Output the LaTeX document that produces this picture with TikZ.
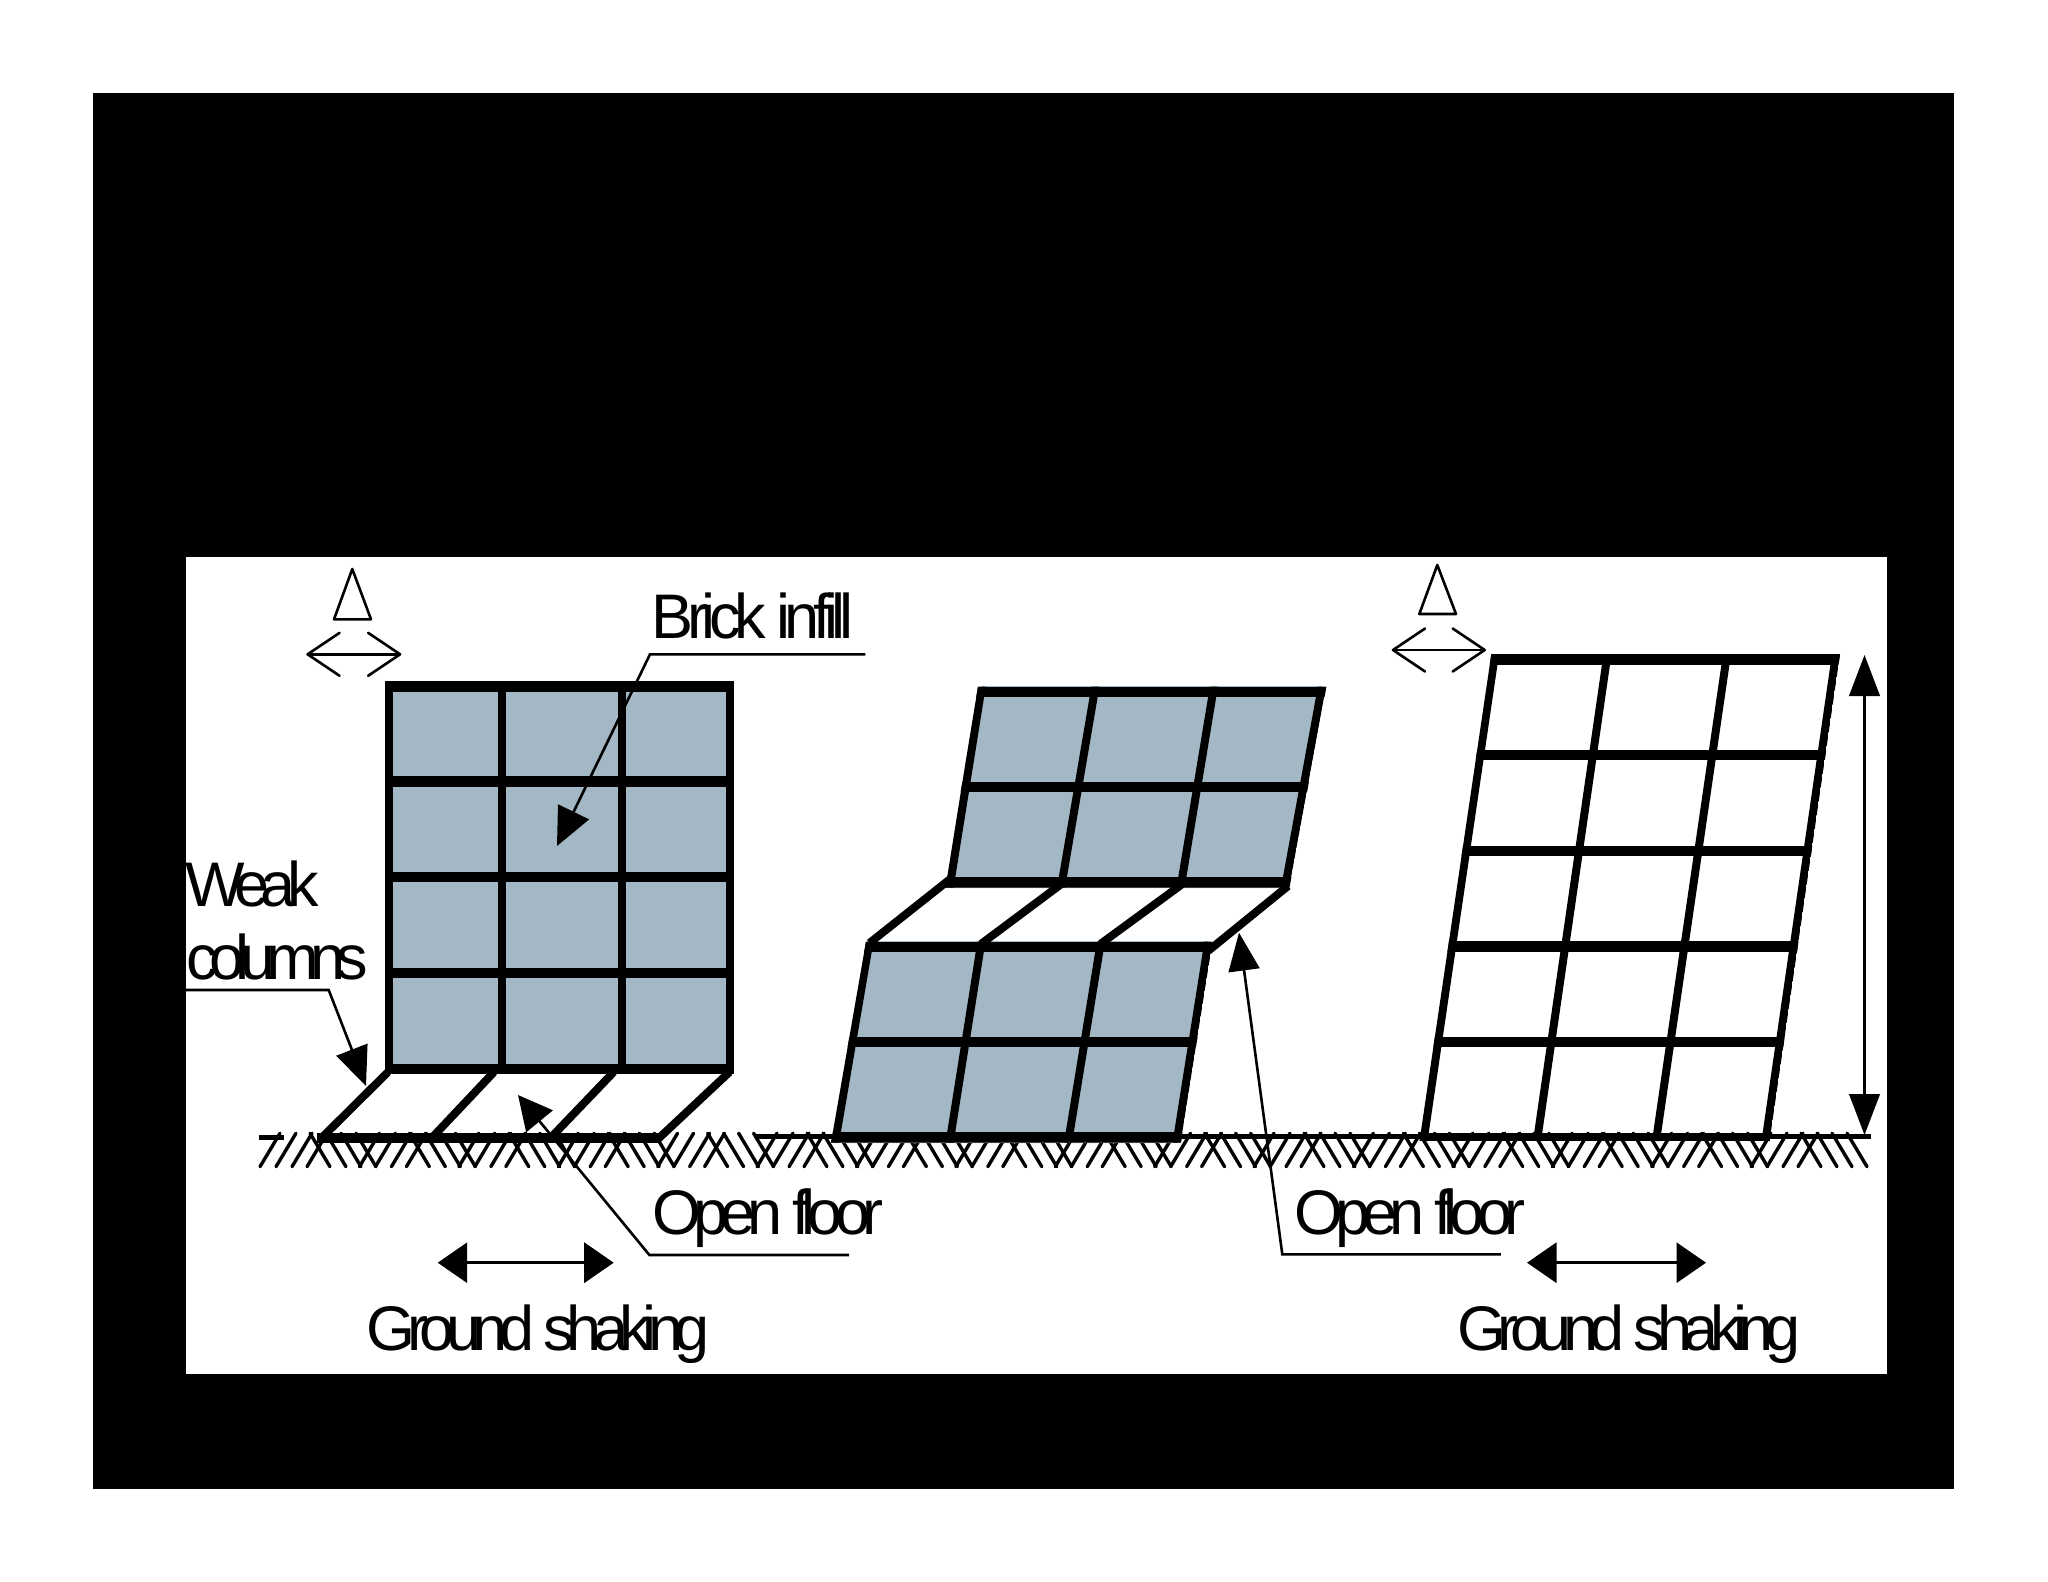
\documentclass[tikz,border=0pt]{standalone}
\usepackage{fontspec}
\setmainfont{Liberation Sans}
\usetikzlibrary{arrows.meta,calc}
\definecolor{brick}{RGB}{163,184,196}
\newcommand{\tracked}[1]{\addfontfeature{LetterSpace=#1}}
\tikzset{
  lab/.style={anchor=base west,inner sep=0pt,outer sep=0pt,font=\fontsize{63}{70}\selectfont},
  beam/.style={line width=10.4pt,line cap=butt},
  colm/.style={line width=8pt,line cap=butt},
  hatchline/.style={line width=3.4pt,line cap=round},
  leader/.style={line width=2.6pt,line join=miter},
  shake/.style={line width=3.2pt,{Triangle[length=29.5pt,width=40pt]}-{Triangle[length=29.5pt,width=40pt]}},
  drift/.style={line width=2.6pt,line cap=round,{Straight Barb[length=32pt,width=43pt,round]}-{Straight Barb[length=32pt,width=43pt,round]}},
  delta/.style={line width=2.6pt,line join=round},
}
\begin{document}
\begin{tikzpicture}[x=1pt,y=-1pt]
\useasboundingbox (0,0) rectangle (2048,1582);
\fill[white] (0,0) rectangle (2048,1582);
\fill[black] (92.7,92.7) rectangle (1954.3,1489.3);
\fill[white] (185.5,557.3) rectangle (1887,1374.3);

% ground hatching
\foreach \k in {0,...,15}{
  \foreach \d in {0,16,32,47}{
    \draw[hatchline] ({260+99.4*\k+\d},1166.7) -- ++(20,-33.5);
  }
  \foreach \d in {0,16,31,46}{
    \draw[hatchline] ({330+99.4*\k+\d},1166.7) -- ++(-20,-33.5);
  }
}
\draw[line width=5pt] (259,1137) -- (284,1137);
\draw[line width=5pt] (756,1136.7) -- (1870.5,1136.7);

% ---------- building 1
\fill[brick] (389,686) rectangle (729.6,1068.7);
\foreach \x in {389,502.3,621.5,729.6}
  \draw[colm] (\x,681) -- (\x,1074);
\foreach \y in {686.3,781.3,877,972.7,1068.7}
  \draw[beam] (385,\y) -- (733.6,\y);
\draw[colm] (388,1072) -- (321.8,1137.7);
\draw[colm] (494,1072) -- (433.6,1136);
\draw[colm] (613.7,1072) -- (552.4,1136);
\draw[colm] (729.5,1072) -- (658,1139);
\draw[beam] (317,1137.7) -- (660,1137.7);

% ---------- building 2
\coordinate (ua) at (981.8,686); \coordinate (ub) at (1095.5,686);
\coordinate (uc) at (1214,686); \coordinate (ud) at (1322,686);
\coordinate (ue) at (949.5,888); \coordinate (uf) at (1061,888);
\coordinate (ug) at (1180.5,888); \coordinate (uh) at (1285,888);
\fill[brick] (ua) -- (ud) -- (uh) -- (ue) -- cycle;
\coordinate (la) at (869.5,941); \coordinate (lb) at (981.5,941);
\coordinate (lc) at (1101,941); \coordinate (ld) at (1208.5,941);
\coordinate (le) at (835,1143); \coordinate (lf) at (949.5,1143);
\coordinate (lg) at (1068,1143); \coordinate (lh) at (1176.5,1143);
\fill[brick] (la) -- (ld) -- (lh) -- (le) -- cycle;
\begin{scope}
  \clip (978,686.5) -- (1326.5,686.5) -- (1289.5,887.5) -- (945,887.5) -- cycle;
  \draw[colm] (ua) -- (ue);
  \draw[colm] (ub) -- (uf);
  \draw[colm] (uc) -- (ug);
  \draw[colm] (ud) -- (uh);
  \draw[beam] (960,691.7) -- (1340,691.7);
  \draw[beam] (940,786.7) -- (1340,786.7);
  \draw[beam] (930,882.3) -- (1340,882.3);
\end{scope}
\begin{scope}
  \clip (866,941.5) -- (1212.5,941.5) -- (1181,1142.7) -- (831,1142.7) -- cycle;
  \draw[colm] (la) -- (le);
  \draw[colm] (lb) -- (lf);
  \draw[colm] (lc) -- (lg);
  \draw[colm] (ld) -- (lh);
  \draw[beam] (850,946.7) -- (1230,946.7);
  \draw[beam] (830,1042) -- (1230,1042);
  \draw[beam] (820,1137.5) -- (1230,1137.5);
\end{scope}
\draw[colm] (951.5,878) -- (869.5,943);
\draw[colm] (1060,885) -- (981,944);
\draw[colm] (1181,885) -- (1100.4,944);
\draw[colm] (1288,886) -- (1208,951);

% ---------- building 3
\coordinate (ra) at (1495,654); \coordinate (rb) at (1423.5,1141);
\coordinate (rc) at (1607.5,654); \coordinate (rd) at (1537,1141);
\coordinate (re) at (1727,654); \coordinate (rf) at (1656,1141);
\coordinate (rg) at (1836,654); \coordinate (rh) at (1765.5,1141);
\begin{scope}
  \clip (1491.3,654.2) -- (1840,654.2) -- (1769.7,1141) -- (1419.5,1141) -- cycle;
  \draw[colm] (ra) -- (rb);
  \draw[colm] (rc) -- (rd);
  \draw[colm] (re) -- (rf);
  \draw[colm] (rg) -- (rh);
  \draw[beam] (1400,659.3) -- (1860,659.3);
  \draw[beam] (1400,755) -- (1860,755);
  \draw[beam] (1400,850.7) -- (1860,850.7);
  \draw[beam] (1400,946.5) -- (1860,946.5);
  \draw[beam] (1400,1042) -- (1860,1042);
  \draw[line width=8pt] (1400,1136.7) -- (1860,1136.7);
\end{scope}

% ---------- labels
\node[lab] (brick) at (651.5,638) {\tracked{-10.2}Brick infill};
\node[lab] (weak) at (185,906) {\tracked{-13.8}Weak};
\node[lab] (cols) at (186.5,979) {\tracked{-14}columns};
\node[lab] (openA) at (652,1234) {\tracked{-12.5}Open floor};
\node[lab] (openB) at (1294,1234) {\tracked{-12.5}Open floor};
\node[lab] (groundA) at (366.5,1350) {\tracked{-13.4}Ground shaking};
\node[lab] (groundB) at (1457,1350) {\tracked{-13.4}Ground shaking};

% ---------- leaders
\coordinate (brickEnd) at (865.3,654.3); \coordinate (brickKnee) at (650,654.3); \coordinate (brickTip) at (557,846);
\draw[leader,-{Triangle[length=38pt,width=34pt]}] (brickEnd) -- (brickKnee) -- (brickTip);
\coordinate (weakEnd) at (185.5,990); \coordinate (weakKnee) at (328.7,990); \coordinate (weakTip) at (366,1086);
\draw[leader,-{Triangle[length=39pt,width=33pt]}] (weakEnd) -- (weakKnee) -- (weakTip);
\coordinate (openAEnd) at (849,1255); \coordinate (openAKnee) at (649.4,1255); \coordinate (openATip) at (518,1095);
\draw[leader,-{Triangle[length=34pt,width=34pt]}] (openAEnd) -- (openAKnee) -- (openATip);
\coordinate (openBEnd) at (1500.8,1254.3); \coordinate (openBKnee) at (1282.3,1254.3); \coordinate (openBTip) at (1239,932.7);
\draw[leader,-{Triangle[length=38pt,width=31pt]}] (openBEnd) -- (openBKnee) -- (openBTip);

% ---------- ground shaking arrows
\coordinate (sa1) at (437.7,1262.7); \coordinate (sa2) at (613.7,1262.7);
\draw[shake] (sa1) -- (sa2);
\coordinate (sb1) at (1527,1262.7); \coordinate (sb2) at (1706,1262.7);
\draw[shake] (sb1) -- (sb2);

% ---------- height arrow
\coordinate (h1) at (1864.5,655); \coordinate (h2) at (1864.5,1135);
\draw[line width=2.6pt,{Triangle[length=41pt,width=30.5pt]}-{Triangle[length=41pt,width=30.5pt]}] (h1) -- (h2);

% ---------- drift marks
\draw[delta] (352.3,569) -- (371,619.3) -- (334,619.3) -- cycle;
\coordinate (da1) at (306.3,654.3); \coordinate (da2) at (401.4,654.3);
\draw[drift] (da1) -- (da2);
\draw[delta] (1437.3,565) -- (1456,614) -- (1419.3,614) -- cycle;
\coordinate (db1) at (1391.7,650); \coordinate (db2) at (1486,650);
\draw[drift] (db1) -- (db2);
\end{tikzpicture}
\end{document}
